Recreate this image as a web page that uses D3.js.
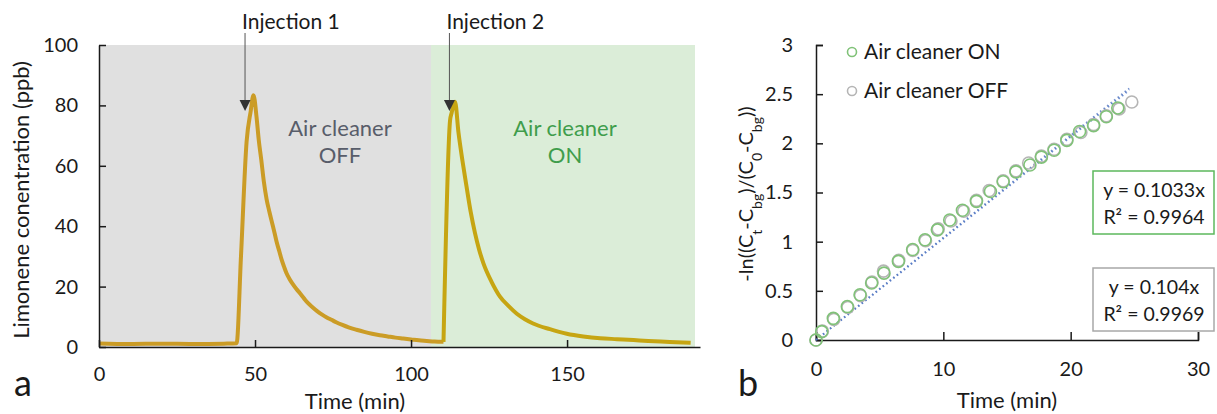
<!DOCTYPE html>
<html>
<head>
<meta charset="utf-8">
<script src="https://cdn.jsdelivr.net/npm/d3@7"></script>
<style>
  body { margin: 0; background: #fff; }
  svg text { font-family: Lato, "Open Sans", sans-serif; fill: #1a1a1a; }
</style>
</head>
<body>
<svg id="chart" width="1217" height="414"></svg>
<script>
// ---- panel a data (time in min, limonene in ppb) ----
const offTime = [0, 10, 20, 30, 40, 44.1, 45.5, 47.3, 48.6, 49.5, 50.5, 51.2, 52, 52.8, 53.7, 54.6, 55.5, 56.3, 57, 57.8, 58.5, 59.3, 60.1, 61, 62, 63.2, 64.4, 65.7, 67, 68.5, 70, 71.5, 73, 74.5, 76, 78, 80, 82.5, 85, 87.5, 90, 92.5, 95, 97.5, 100, 102.5, 105, 107.5, 110.4];
const offConc = [1.2, 1.0, 1.1, 1.0, 1.1, 1.2, 30, 68, 78, 83.4, 76, 68.5, 62, 55, 49, 44.8, 41, 37.6, 34.5, 31.6, 29, 26.6, 24.4, 22.6, 21, 19.3, 17.8, 16.1, 14.5, 13.1, 11.8, 10.7, 9.8, 9, 8.2, 7.3, 6.5, 5.7, 5.0, 4.4, 3.9, 3.5, 3.1, 2.8, 2.5, 2.2, 2.0, 1.8, 1.7];
const onTime = [110.4, 112.5, 113, 114.1, 115.2, 116.5, 117.8, 119.1, 120.5, 121.8, 123.2, 125.8, 128.5, 131.2, 133.9, 136.5, 139.1, 144.5, 149.9, 155.2, 160.6, 166, 171.3, 176, 180, 185, 189.6];
const onConc = [1.7, 75, 77.5, 81.2, 71, 61.5, 53, 44.8, 37.7, 32.3, 27.7, 21.6, 16.7, 13.6, 11, 9.2, 7.8, 5.9, 4.4, 3.5, 2.9, 2.6, 2.3, 2.0, 1.8, 1.6, 1.4];
const shadeOff = [0, 106.4];
const shadeOn = [106.4, 191];
const injections = [{ label: "Injection 1", t: 46.8 }, { label: "Injection 2", t: 112.3 }];
const aXTicks = [0, 50, 100, 150];
const aYTicks = [0, 20, 40, 60, 80, 100];

// ---- panel b data (time in min, -ln((Ct-Cbg)/(C0-Cbg))) ----
const bOnT = [0, 0.45, 1.36, 2.46, 3.46, 4.37, 5.34, 6.47, 7.59, 8.56, 9.53, 10.5, 11.5, 12.6, 13.7, 14.7, 15.7, 16.8, 17.7, 18.7, 19.7, 20.7, 21.8, 22.8, 23.7];
const bOnY = [0, 0.085, 0.22, 0.34, 0.46, 0.58, 0.68, 0.80, 0.92, 1.02, 1.12, 1.22, 1.32, 1.41, 1.51, 1.61, 1.71, 1.78, 1.86, 1.93, 2.03, 2.12, 2.18, 2.27, 2.36];
const bOffT = [0, 0.5, 1.4, 2.5, 3.5, 4.4, 5.3, 6.5, 7.6, 8.6, 9.6, 10.6, 11.6, 12.6, 13.6, 14.7, 15.7, 16.7, 17.7, 18.7, 19.7, 20.8, 21.8, 22.8, 23.8, 24.8];
const bOffY = [0, 0.09, 0.21, 0.33, 0.45, 0.59, 0.70, 0.81, 0.91, 1.01, 1.13, 1.21, 1.31, 1.42, 1.52, 1.62, 1.72, 1.80, 1.87, 1.94, 2.04, 2.11, 2.19, 2.28, 2.35, 2.42];
const slopes = [0.1033, 0.104];
const fitEnd = 24.6;
const bXTicks = [0, 10, 20, 30];
const bYTicks = [0, 0.5, 1, 1.5, 2, 2.5, 3];

const svg = d3.select("#chart");

// ==================================
// PANEL A
// ==================================
const xA = d3.scaleLinear().domain([0, 192.6]).range([99, 700]);
const yA = d3.scaleLinear().domain([0, 100]).range([347, 45]);

svg.append("rect")
  .attr("x", xA(shadeOff[0])).attr("y", yA(100))
  .attr("width", xA(shadeOff[1]) - xA(shadeOff[0])).attr("height", yA(0) - yA(100))
  .attr("fill", "#e0e0e0");
svg.append("rect")
  .attr("x", xA(shadeOn[0])).attr("y", yA(100))
  .attr("width", xA(shadeOn[1]) - xA(shadeOn[0])).attr("height", yA(0) - yA(100))
  .attr("fill", "#dbedd8");

const lineA = d3.line().curve(d3.curveMonotoneX).x(d => xA(d[0])).y(d => yA(d[1]));
svg.append("path")
  .attr("d", lineA(d3.zip(offTime, offConc)))
  .attr("fill", "none").attr("stroke", "#cb9c26").attr("stroke-width", 4)
  .attr("stroke-linejoin", "round");
svg.append("path")
  .attr("d", lineA(d3.zip(onTime, onConc)))
  .attr("fill", "none").attr("stroke", "#c6a512").attr("stroke-width", 4)
  .attr("stroke-linejoin", "round");

// axes (ticks pointing inward)
const axA_x = svg.append("g")
  .attr("transform", `translate(0,${yA(0)})`)
  .call(d3.axisBottom(xA).tickValues(aXTicks).tickSize(-7).tickSizeOuter(0).tickPadding(20));
const axA_y = svg.append("g")
  .attr("transform", `translate(${xA(0)},0)`)
  .call(d3.axisLeft(yA).tickValues(aYTicks).tickSize(-7).tickSizeOuter(0).tickPadding(21));
[axA_x, axA_y].forEach(g => {
  g.selectAll("path, line").attr("stroke", "#1a1a1a").attr("stroke-width", 1.5);
  g.selectAll("text").style("font-size", "20px").attr("fill", "#1a1a1a");
});

// injection arrows
injections.forEach(inj => {
  svg.append("line")
    .attr("x1", xA(inj.t)).attr("x2", xA(inj.t))
    .attr("y1", 33).attr("y2", 105)
    .attr("stroke", "#555").attr("stroke-width", 1);
  svg.append("path")
    .attr("d", `M${xA(inj.t) - 5.5},${100} L${xA(inj.t) + 5.5},${100} L${xA(inj.t)},${111} Z`)
    .attr("fill", "#333");
  svg.append("text")
    .attr("x", xA(inj.t) - 3).attr("y", 29)
    .style("font-size", "21px")
    .text(inj.label);
});

// region labels
[["Air cleaner", 136], ["OFF", 163]].forEach(([t, y]) => {
  svg.append("text").attr("x", 340).attr("y", y).attr("text-anchor", "middle")
    .style("font-size", "22px").style("fill", "#585d6a").text(t);
});
[["Air cleaner", 136], ["ON", 163]].forEach(([t, y]) => {
  svg.append("text").attr("x", 565).attr("y", y).attr("text-anchor", "middle")
    .style("font-size", "22px").style("fill", "#3f9d4c").text(t);
});

svg.append("text").attr("x", 355).attr("y", 409).attr("text-anchor", "middle")
  .style("font-size", "22px").text("Time (min)");
svg.append("text")
  .attr("transform", "translate(29,200) rotate(-90)")
  .attr("text-anchor", "middle")
  .style("font-size", "22px").text("Limonene conentration (ppb)");
svg.append("text").attr("x", 14).attr("y", 396).style("font-size", "36px").text("a");

// ==================================
// PANEL B
// ==================================
const xB = d3.scaleLinear().domain([0, 30]).range([816, 1198]);
const yB = d3.scaleLinear().domain([0, 3]).range([340, 45]);

const axB_x = svg.append("g")
  .attr("transform", `translate(0,${yB(0)})`)
  .call(d3.axisBottom(xB).tickValues(bXTicks).tickSize(-8).tickSizeOuter(-8).tickPadding(22));
const axB_y = svg.append("g")
  .attr("transform", `translate(${xB(0)},0)`)
  .call(d3.axisLeft(yB).tickValues(bYTicks).tickFormat(d3.format("")).tickSize(-7).tickSizeOuter(-7).tickPadding(23));
[axB_x, axB_y].forEach(g => {
  g.selectAll("path, line").attr("stroke", "#1a1a1a").attr("stroke-width", 1.5);
  g.selectAll("text").style("font-size", "20px").attr("fill", "#1a1a1a");
});

// trend lines
slopes.forEach(s => {
  svg.append("line")
    .attr("x1", xB(0)).attr("y1", yB(0))
    .attr("x2", xB(fitEnd)).attr("y2", yB(s * fitEnd))
    .attr("stroke", "#5277c4").attr("stroke-width", 2)
    .attr("stroke-dasharray", "1.5,3").attr("opacity", 0.8);
});

// scatter
svg.append("g").selectAll("circle")
  .data(d3.zip(bOffT, bOffY)).join("circle")
  .attr("cx", d => xB(d[0])).attr("cy", d => yB(d[1])).attr("r", 6)
  .attr("fill", "none").attr("stroke", "#b5b5b5").attr("stroke-width", 1.6);
svg.append("g").selectAll("circle")
  .data(d3.zip(bOnT, bOnY)).join("circle")
  .attr("cx", d => xB(d[0])).attr("cy", d => yB(d[1])).attr("r", 6)
  .attr("fill", "none").attr("stroke", "#80c278").attr("stroke-width", 1.6);

// legend
[["Air cleaner ON", "#80c278", 52], ["Air cleaner OFF", "#b5b5b5", 91]].forEach(([t, c, y]) => {
  svg.append("circle").attr("cx", 852).attr("cy", y).attr("r", 4.5)
    .attr("fill", "none").attr("stroke", c).attr("stroke-width", 1.6);
  svg.append("text").attr("x", 864).attr("y", y + 7).style("font-size", "21px").text(t);
});

// fit boxes
[[slopes[0], "0.9964", "#5cb85c", 171], [slopes[1], "0.9969", "#a8a8a8", 268]].forEach(([s, r2, c, y]) => {
  svg.append("rect").attr("x", 1093).attr("y", y).attr("width", 121).attr("height", 63)
    .attr("fill", "#fff").attr("stroke", c).attr("stroke-width", 1.5);
  svg.append("text").attr("x", 1154).attr("y", y + 26).attr("text-anchor", "middle")
    .style("font-size", "19.5px").text(`y = ${s}x`);
  svg.append("text").attr("x", 1154).attr("y", y + 53).attr("text-anchor", "middle")
    .style("font-size", "19.5px").text(`R² = ${r2}`);
});

svg.append("text").attr("x", 1007).attr("y", 408).attr("text-anchor", "middle")
  .style("font-size", "22px").text("Time (min)");

const yt = svg.append("text")
  .attr("transform", "translate(753,194) rotate(-90)")
  .attr("text-anchor", "middle")
  .style("font-size", "20px");
[["-ln((C", null], ["t", "sub"], ["-C", null], ["bg", "sub"], [")/(C", null], ["0", "sub"], ["-C", null], ["bg", "sub"], ["))", null]]
  .forEach(([t, k]) => {
    const ts = yt.append("tspan").text(t);
    if (k) ts.attr("baseline-shift", "sub").style("font-size", "14px");
  });

svg.append("text").attr("x", 738).attr("y", 396).style("font-size", "36px").text("b");
</script>
</body>
</html>
